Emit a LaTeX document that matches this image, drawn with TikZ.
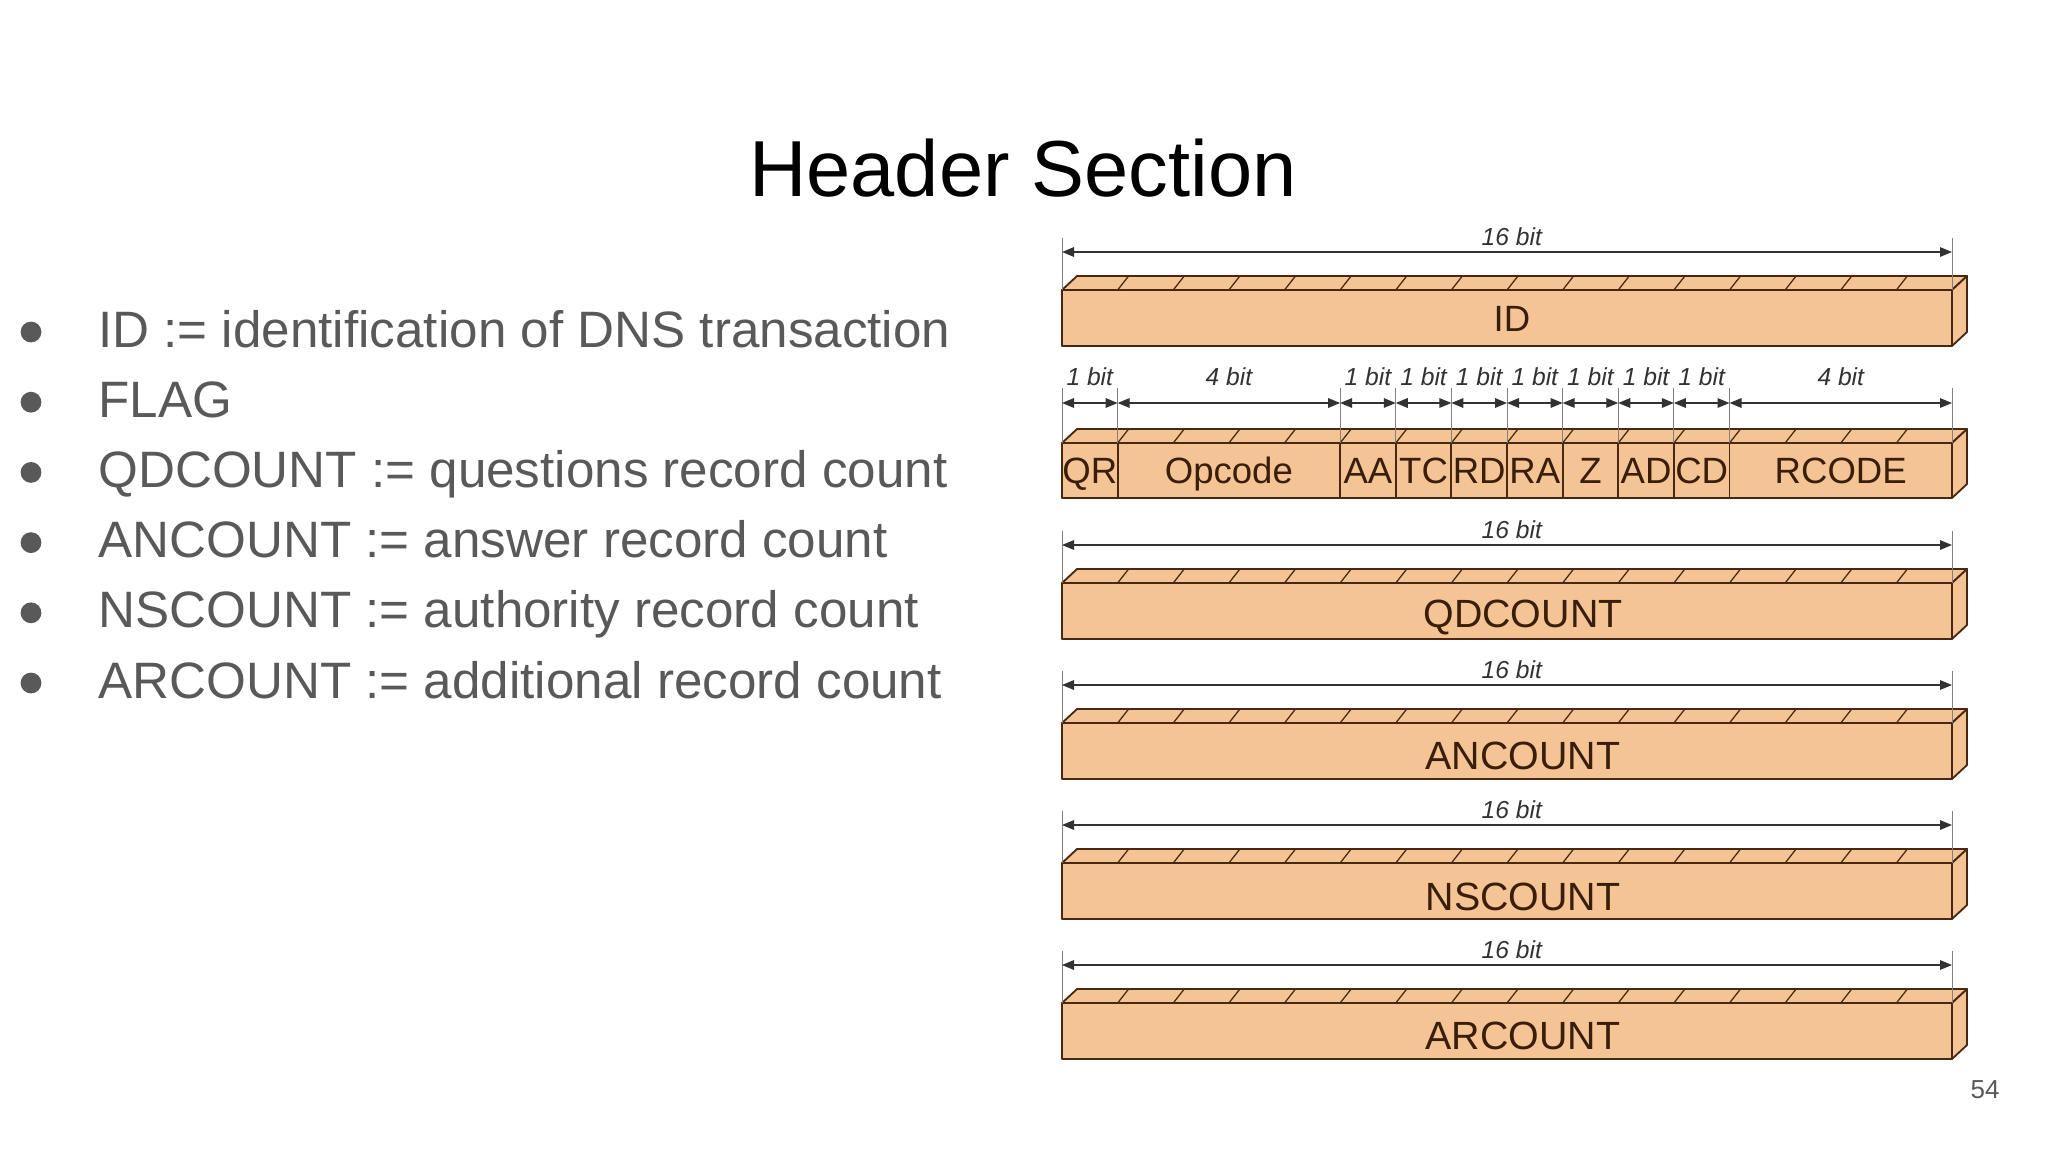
\documentclass[tikz,border=0pt]{standalone}
\usepackage{fontspec}
\setmainfont{Liberation Sans}
\usetikzlibrary{arrows.meta,calc}

\definecolor{barfill}{RGB}{244,196,148}
\definecolor{barline}{RGB}{72,40,16}
\definecolor{bartext}{RGB}{58,30,10}
\definecolor{dimgray}{RGB}{50,50,50}
\definecolor{slidegray}{RGB}{89,89,89}

\begin{document}
\begin{tikzpicture}
	[x=0.025cm, y=-0.025cm,
	barbox/.style={draw=barline, fill=barfill, line width=1.3pt, line join=round},
	slash/.style={draw=barline, line width=0.9pt},
	bittick/.style={draw=gray, line width=0.7pt},
	dimline/.style={draw=dimgray, line width=0.9pt,
		arrows={Triangle[length=3mm,width=2.4mm]-Triangle[length=3mm,width=2.4mm]}},
	bitlabel/.style={font=\fontsize{17.5}{20}\selectfont\itshape, text=dimgray, inner sep=0pt},
	fieldtext/.style={font=\fontsize{26}{30}\selectfont, text=bartext, inner sep=0pt, anchor=base},
	counttext/.style={fieldtext, font=\fontsize{28}{32}\selectfont},
	bullettext/.style={font=\fontsize{36.4}{42}\selectfont, text=slidegray, anchor=base west, inner sep=0pt},
	bulletdot/.style={circle, fill=slidegray, inner sep=0pt, minimum size=0.52cm}]
	\useasboundingbox (0,0) rectangle (2048,1152);

	% title
	\node[font=\fontsize{56.5}{68}\selectfont, anchor=base, inner sep=0pt] (title) at (1023,196) {Header Section};

	% bullet list
	\foreach \txt [count=\i] in {{ID := identification of DNS transaction}, {FLAG},
		{QDCOUNT := questions record count}, {ANCOUNT := answer record count},
		{NSCOUNT := authority record count}, {ARCOUNT := additional record count}} {
		\node[bullettext] (item\i) at (98,276.8+70.2*\i) {\txt};
		\node[bulletdot] (dot\i) at (31,261.8+70.2*\i) {};
	}

	% 16 bit bars
	\foreach \nm/\txt/\ty/\tx/\tb/\sz in {id/ID/290/1512/41.5/fieldtext, qd/QDCOUNT/583/1523/44/counttext,
		an/ANCOUNT/723/1523/46/counttext, ns/NSCOUNT/863/1523/47/counttext, ar/ARCOUNT/1003/1523/46/counttext} {
		\coordinate (\nm-nw) at (1062,\ty);
		\coordinate (\nm-ne) at (1952,\ty);
		\coordinate (\nm-se) at (1952,\ty+56);
		\draw[barbox] (\nm-nw) -- ++(15,-14) -- ++(890,0) -- (\nm-ne) -- cycle;
		\draw[barbox] (\nm-ne) -- ++(15,-14) -- ++(0,56) -- (\nm-se) -- cycle;
		\draw[barbox] (\nm-nw) rectangle (\nm-se);
		\foreach \k in {1,...,15}
			\draw[slash] ($(\nm-nw)+(\k*55.625,0)$) -- ++(11,-14);
		\draw[bittick] (\nm-nw) -- ++(0,-52) coordinate (\nm-lt);
		\draw[bittick] (\nm-ne) -- ++(0,-52) coordinate (\nm-rt);
		\coordinate (\nm-l) at ($(\nm-nw)+(0,-38)$);
		\coordinate (\nm-r) at ($(\nm-ne)+(0,-38)$);
		\draw[dimline] (\nm-l) -- node[bitlabel, above=4pt, xshift=0.12cm] {16 bit} (\nm-r);
		\node[\sz] (\nm) at (\tx,\ty+\tb) {\txt};
	}

	% flag bar
	\coordinate (fl-nw) at (1062,443);
	\coordinate (fl-ne) at (1952,443);
	\coordinate (fl-se) at (1952,498);
	\draw[barbox] (fl-nw) -- ++(15,-14) -- ++(890,0) -- (fl-ne) -- cycle;
	\draw[barbox] (fl-ne) -- ++(15,-14) -- ++(0,55) -- (fl-se) -- cycle;
	\foreach \k in {1,...,15}
		\draw[slash] ($(fl-nw)+(\k*55.625,0)$) -- ++(11,-14);
	\foreach \a/\b/\nb/\txt/\nm in {0/1/1/QR/qr, 1/5/4/Opcode/op, 5/6/1/AA/aa, 6/7/1/TC/tc,
		7/8/1/RD/rd, 8/9/1/RA/ra, 9/10/1/Z/z, 10/11/1/AD/ad, 11/12/1/CD/cd, 12/16/4/RCODE/rc} {
		\coordinate (\nm-w) at (1062+\a*55.625,443);
		\coordinate (\nm-e) at (1062+\b*55.625,443);
		\draw[barbox] (\nm-w) rectangle ($(\nm-e)+(0,55)$);
		\node[fieldtext] (\nm) at ($(\nm-w)!0.5!(\nm-e)+(0,40.5)$) {\txt};
		\draw[bittick] (\nm-w) -- ++(0,-55);
		\draw[dimline] ($(\nm-w)+(0,-40)$) -- ($(\nm-e)+(0,-40)$);
		\node[bitlabel] (\nm-bits) at ($(\nm-w)!0.5!(\nm-e)+(0,-66)$) {\nb\ bit};
	}
	\draw[bittick] (fl-ne) -- ++(0,-55);

	% page number
	\node[font=\fontsize{18.5}{22}\selectfont, text=slidegray, anchor=base, inner sep=0pt] (page) at (1985,1098) {54};
\end{tikzpicture}
\end{document}
